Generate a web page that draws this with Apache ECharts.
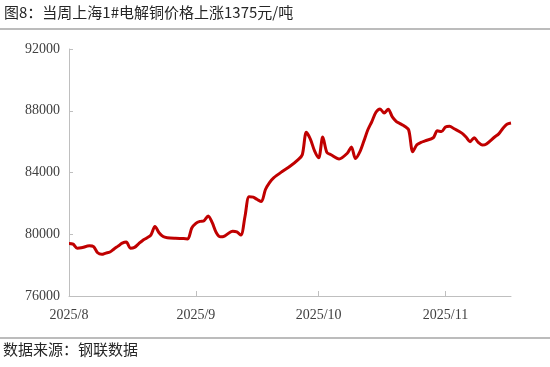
<!DOCTYPE html>
<html>
<head>
<meta charset="utf-8">
<script src="https://cdn.jsdelivr.net/npm/echarts@6/dist/echarts.min.js"></script>
<style>html,body{margin:0;padding:0;background:#fff;}#c{width:550px;height:367px;}</style>
</head>
<body>
<div id="c"></div>
<script>
const titleText = '图8：当周上海1#电解铜价格上涨1375元/吨';
const sourceText = '数据来源：钢联数据';
const yTicks = [76000, 80000, 84000, 88000, 92000];
const monthTicks = ['2025-08-01', '2025-09-01', '2025-10-01', '2025-11-01'];
const dates = [
 '2025-08-01','2025-08-02','2025-08-03','2025-08-04','2025-08-06','2025-08-07','2025-08-08','2025-08-09','2025-08-10',
 '2025-08-11','2025-08-12','2025-08-13','2025-08-14','2025-08-15','2025-08-16','2025-08-17','2025-08-18','2025-08-19',
 '2025-08-20','2025-08-21','2025-08-22','2025-08-23','2025-08-24','2025-08-25','2025-08-27','2025-08-29','2025-08-30',
 '2025-08-31','2025-09-01','2025-09-02','2025-09-03','2025-09-04','2025-09-05','2025-09-06','2025-09-07','2025-09-08',
 '2025-09-10','2025-09-11','2025-09-12','2025-09-13','2025-09-14','2025-09-15','2025-09-16','2025-09-17','2025-09-18',
 '2025-09-19','2025-09-20','2025-09-22','2025-09-24','2025-09-26','2025-09-27','2025-09-28','2025-09-29','2025-09-30',
 '2025-10-01','2025-10-02','2025-10-03','2025-10-04','2025-10-06','2025-10-08','2025-10-09','2025-10-10','2025-10-11',
 '2025-10-12','2025-10-13','2025-10-14','2025-10-15','2025-10-16','2025-10-17','2025-10-18','2025-10-19','2025-10-20',
 '2025-10-21','2025-10-22','2025-10-23','2025-10-24','2025-10-25','2025-10-26','2025-10-27','2025-10-29','2025-10-30',
 '2025-10-31','2025-11-01','2025-11-02','2025-11-03','2025-11-05','2025-11-06','2025-11-07','2025-11-08','2025-11-09',
 '2025-11-10','2025-11-11','2025-11-13','2025-11-14','2025-11-15','2025-11-16','2025-11-17'
];
const prices = [
 79400,79360,79100,79120,79250,79200,78800,78700,78780,
 78850,79050,79230,79420,79500,79100,79150,79380,79600,
 79760,79950,80500,80100,79850,79780,79740,79720,79700,
 80400,80700,80830,80880,81180,80750,80100,79830,79880,
 80200,80150,79950,81150,82430,82400,82250,82120,82900,
 83350,83650,84050,84400,84830,85150,86600,86150,85400,
 84950,86300,85300,85150,84880,85250,85650,84900,85300,
 86000,86750,87300,87900,88120,87850,88100,87600,87300,
 87150,87000,86750,85350,85800,85950,86050,86250,86700,
 86650,86950,87000,86850,86550,86300,86000,86250,85950,
 85780,85850,86300,86500,86850,87120,87200
];

const chart = echarts.init(document.getElementById('c'), null, {renderer: 'canvas'});
const serif = '"Liberation Serif", "Times New Roman", serif';
const cjk = '"Noto Sans CJK SC", sans-serif';
const ts = s => new Date(s + 'T00:00:00Z').getTime();

chart.setOption({
  animation: false,
  backgroundColor: '#fff',
  grid: {left: 69, right: 39, top: 49, bottom: 71},
  graphic: [
    {type: 'text', left: 4, top: 5, style: {text: titleText, font: '15px ' + cjk, fill: '#262626'}},
    {type: 'line', shape: {x1: 0, y1: 29, x2: 550, y2: 29}, style: {stroke: '#a6a6a6', lineWidth: 1.5}},
    {type: 'line', shape: {x1: 0, y1: 338, x2: 550, y2: 338}, style: {stroke: '#a6a6a6', lineWidth: 1.5}},
    {type: 'text', left: 3, top: 342, style: {text: sourceText, font: '15px ' + cjk, fill: '#262626'}}
  ],
  xAxis: {
    type: 'value',
    min: ts('2025-08-01'),
    max: ts('2025-11-17'),
    axisLine: {lineStyle: {color: '#bfbfbf', width: 1}},
    axisTick: {show: true, inside: true, length: 5, lineStyle: {color: '#bfbfbf'}, customValues: monthTicks.map(ts)},
    axisLabel: {
      customValues: monthTicks.map(ts),
      margin: 12,
      fontFamily: serif, fontSize: 14, color: '#404040',
      formatter: v => { const d = new Date(v); return d.getUTCFullYear() + '/' + (d.getUTCMonth() + 1); }
    },
    splitLine: {show: false}
  },
  yAxis: {
    type: 'value',
    min: yTicks[0], max: yTicks[yTicks.length - 1], interval: 4000,
    axisLine: {show: true, lineStyle: {color: '#bfbfbf', width: 1}},
    axisTick: {show: true, inside: true, length: 4, lineStyle: {color: '#bfbfbf'}},
    axisLabel: {margin: 9, fontFamily: serif, fontSize: 14, color: '#404040', formatter: v => String(v)},
    splitLine: {show: false}
  },
  series: [{
    type: 'line',
    data: dates.map((d, i) => [ts(d), prices[i]]),
    showSymbol: false,
    smooth: 0.3,
    lineStyle: {color: '#c00000', width: 3},
    itemStyle: {color: '#c00000'}
  }]
});
</script>
</body>
</html>
